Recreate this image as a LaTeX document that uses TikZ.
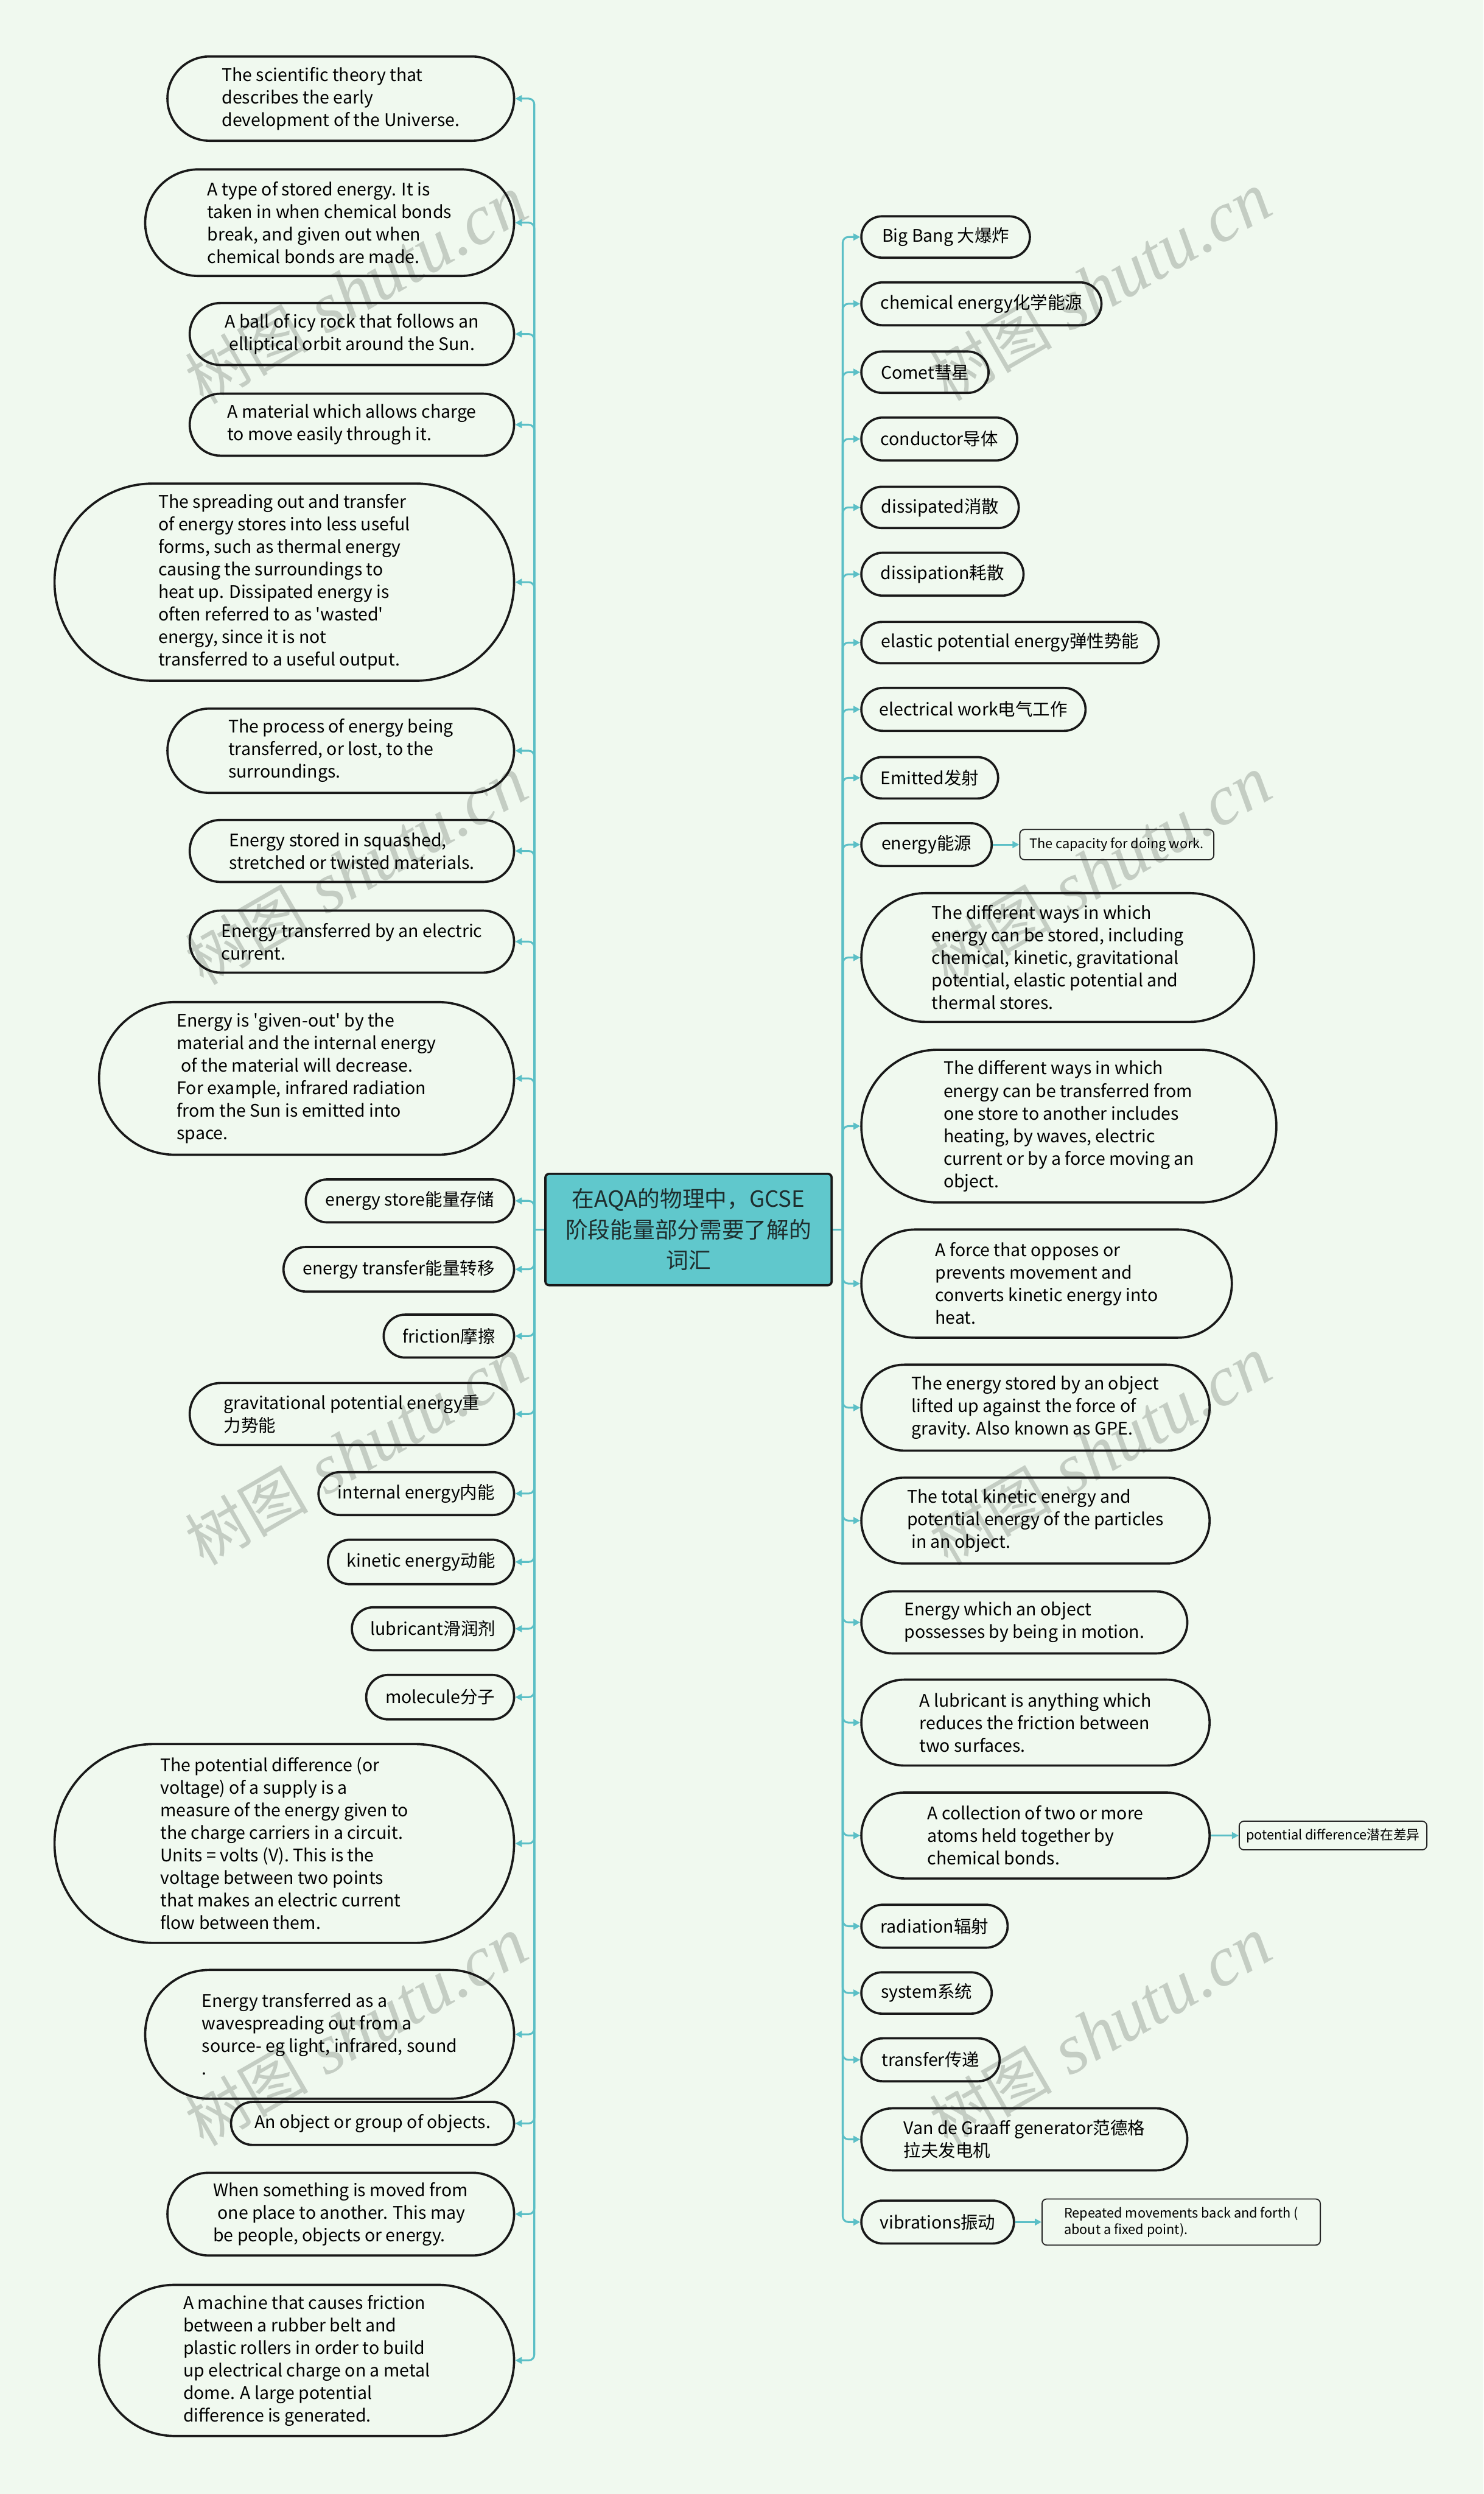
\documentclass[tikz,border=0pt]{standalone}
\usepackage{fontspec}
\usetikzlibrary{shapes.misc,arrows.meta}
\newfontfamily\mf{Noto Sans CJK SC}
\newfontfamily\wmcjk{Noto Sans CJK SC}
\newfontfamily\wmlat{Liberation Serif}
\definecolor{bgc}{HTML}{F0F9EF}
\definecolor{lnc}{HTML}{5BBFC6}
\definecolor{ctrc}{HTML}{60C8CC}
\definecolor{ctrt}{HTML}{1E2E2E}
\definecolor{wmc}{HTML}{B9C2B9}
\def\px{0.03cm}
\tikzset{
  x=0.03cm, y=-0.03cm,
  leaf/.style={rounded rectangle, draw=black!90, line width=1.2pt, align=left,
    font=\mf\fontsize{9.3}{12.1}\selectfont, inner sep=0pt},
  lft/.style={leaf, anchor=east},
  rgt/.style={leaf, anchor=west},
  sz/.style 2 args={minimum width=#1*\px, minimum height=#2*\px},
  notebox/.style={rectangle, rounded corners=2.5pt, draw=black!85, line width=0.6pt,
    align=left, font=\mf\fontsize{7.1}{8.8}\selectfont, inner sep=0pt, anchor=west},
  lnk/.style={draw=lnc, line width=1pt},
  arr/.style={lnk, -{Triangle[length=3.6pt,width=3.6pt]}},
  wmg/.style={text=wmc, opacity=0.8, inner sep=0pt, anchor=base west},
  wmc1/.style={wmg, font=\wmcjk\fontsize{33}{33}\selectfont},
  wmc2/.style={wmg, font=\wmlat\itshape\fontsize{38}{38}\selectfont}
}
% watermark: #1 name prefix, #2 x, #3 y (baseline start)
\newcommand\wmline[3]{%
  \begin{scope}[shift={(#2,#3)}, rotate=30, transform shape]
    \node[wmc1] (#1a) at (0,0) {树};
    \node[wmc1] (#1b) at (38.6,0) {图};
    \node[wmc2] (#1c) at (88.5,0) {s};
    \node[wmc2] (#1d) at (105.9,0) {h};
    \node[wmc2] (#1e) at (128.2,0) {u};
    \node[wmc2] (#1f) at (150.5,0) {t};
    \node[wmc2] (#1g) at (162.9,0) {u};
    \node[wmc2] (#1h) at (185.2,0) {.};
    \node[wmc2] (#1i) at (196.4,0) {c};
    \node[wmc2] (#1j) at (216.2,0) {n};
  \end{scope}}
\begin{document}
\begin{tikzpicture}
\path[fill=bgc] (0,0) rectangle (933,1568);
\useasboundingbox (0,0) rectangle (933,1568);

% watermarks
\wmline{wa}{128}{255}
\wmline{wb}{128}{620}
\wmline{wc}{128}{985}
\wmline{wd}{128}{1350}
\wmline{we}{596}{253}
\wmline{wf}{596}{620}
\wmline{wg}{596}{985}
\wmline{wh}{596}{1350}

% center
\node[rectangle, rounded corners=2pt, fill=ctrc, draw=black!90, line width=1.2pt,
  minimum width=180*\px, minimum height=70*\px, align=center, text=ctrt,
  font=\mf\fontsize{12}{16.5}\selectfont, inner sep=0pt] (c) at (433,773)
  {在AQA的物理中，GCSE\\阶段能量部分需要了解的\\词汇};

% left nodes
\node[lft, sz={218}{53}] (l1) at (324,62) {The scientific theory that\\describes the early\\development of the Universe.};
\node[lft, sz={232}{67}] (l2) at (324,140) {A type of stored energy. It is\\taken in when chemical bonds\\break, and given out when\\chemical bonds are made.};
\node[lft, sz={204}{39}] (l3) at (324,210) {A ball of icy rock that follows an\\\hspace*{0.25em}elliptical orbit around the Sun.};
\node[lft, sz={204}{39}] (l4) at (324,267) {A material which allows charge\\to move easily through it.};
\node[lft, sz={289}{124}] (l5) at (324,366) {The spreading out and transfer\\of energy stores into less useful\\forms, such as thermal energy\\causing the surroundings to\\heat up. Dissipated energy is\\often referred to as 'wasted'\\energy, since it is not\\transferred to a useful output.};
\node[lft, sz={218}{53}] (l6) at (324,472) {The process of energy being\\transferred, or lost, to the\\surroundings.};
\node[lft, sz={204}{39}] (l7) at (324,535) {Energy stored in squashed,\\stretched or twisted materials.};
\node[lft, sz={204}{39}] (l8) at (324,592) {Energy transferred by an electric\\current.};
\node[lft, sz={261}{96}] (l9) at (324,678) {Energy is 'given-out' by the\\material and the internal energy\\\hspace*{0.25em}of the material will decrease.\\For example, infrared radiation\\from the Sun is emitted into\\space.};
\node[lft, sz={131}{27}] (l10) at (324,755) {energy store能量存储};
\node[lft, sz={145}{28}] (l11) at (324,798) {energy transfer能量转移};
\node[lft, sz={82}{27}] (l12) at (324,840) {friction摩擦};
\node[lft, sz={204}{39}] (l13) at (324,889) {gravitational potential energy重\\力势能};
\node[lft, sz={123}{27}] (l14) at (324,939) {internal energy内能};
\node[lft, sz={117}{28}] (l15) at (324,982) {kinetic energy动能};
\node[lft, sz={102}{27}] (l16) at (324,1024) {lubricant滑润剂};
\node[lft, sz={93}{28}] (l17) at (324,1067) {molecule分子};
\node[lft, sz={289}{125}] (l18) at (324,1159) {The potential difference (or\\voltage) of a supply is a\\measure of the energy given to\\the charge carriers in a circuit.\\Units = volts (V). This is the\\voltage between two points\\that makes an electric current\\flow between them.};
\node[lft, sz={232}{81}] (l19) at (324,1279) {Energy transferred as a\\wavespreading out from a\\source- eg light, infrared, sound\\.};
\node[lft, sz={178}{27}] (l20) at (324,1335) {An object or group of objects.};
\node[lft, sz={218}{52}] (l21) at (324,1392) {When something is moved from\\\hspace*{0.25em}one place to another. This may\\be people, objects or energy.};
\node[lft, sz={261}{95}] (l22) at (324,1484) {A machine that causes friction\\between a rubber belt and\\plastic rollers in order to build\\up electrical charge on a metal\\dome. A large potential\\difference is generated.};

% right nodes
\node[rgt, sz={106}{26}] (r1) at (541,149) {Big Bang 大爆炸};
\node[rgt, sz={151}{27}] (r2) at (541,191) {chemical energy化学能源};
\node[rgt, sz={80}{26}] (r3) at (541,234) {Comet彗星};
\node[rgt, sz={98}{27}] (r4) at (541,276) {conductor导体};
\node[rgt, sz={99}{26}] (r5) at (541,319) {dissipated消散};
\node[rgt, sz={102}{27}] (r6) at (541,361) {dissipation耗散};
\node[rgt, sz={187}{26}] (r7) at (541,404) {elastic potential energy弹性势能};
\node[rgt, sz={141}{27}] (r8) at (541,446) {electrical work电气工作};
\node[rgt, sz={86}{26}] (r9) at (541,489) {Emitted发射};
\node[rgt, sz={82}{27}] (r10) at (541,531) {energy能源};
\node[rgt, sz={247}{81}] (r11) at (541,602) {The different ways in which\\energy can be stored, including\\chemical, kinetic, gravitational\\potential, elastic potential and\\thermal stores.};
\node[rgt, sz={261}{96}] (r12) at (541,708) {The different ways in which\\energy can be transferred from\\one store to another includes\\heating, by waves, electric\\current or by a force moving an\\object.};
\node[rgt, sz={233}{68}] (r13) at (541,807) {A force that opposes or\\prevents movement and\\converts kinetic energy into\\heat.};
\node[rgt, sz={219}{54}] (r14) at (541,885) {The energy stored by an object\\lifted up against the force of\\gravity. Also known as GPE.};
\node[rgt, sz={219}{54}] (r15) at (541,956) {The total kinetic energy and\\potential energy of the particles\\\hspace*{0.25em}in an object.};
\node[rgt, sz={205}{39}] (r16) at (541,1020) {Energy which an object\\possesses by being in motion.};
\node[rgt, sz={219}{54}] (r17) at (541,1083) {A lubricant is anything which\\reduces the friction between\\two surfaces.};
\node[rgt, sz={219}{54}] (r18) at (541,1154) {A collection of two or more\\atoms held together by\\chemical bonds.};
\node[rgt, sz={92}{27}] (r19) at (541,1211) {radiation辐射};
\node[rgt, sz={82}{26}] (r20) at (541,1253) {system系统};
\node[rgt, sz={87}{27}] (r21) at (541,1295) {transfer传递};
\node[rgt, sz={205}{39}] (r22) at (541,1345) {Van de Graaff generator范德格\\拉夫发电机};
\node[rgt, sz={96}{27}] (r23) at (541,1397) {vibrations振动};

% notes
\node[notebox, minimum width=122*\px, minimum height=19*\px] (n1) at (641,531) {The capacity for doing work.};
\node[notebox, minimum width=118*\px, minimum height=18*\px] (n2) at (779,1154) {potential difference潜在差异};
\node[notebox, minimum width=175*\px, minimum height=29*\px] (n3) at (655,1397) {Repeated movements back and forth (\\about a fixed point).};

% spines
\coordinate (ls) at (336,773);
\coordinate (rs) at (530,773);
\draw[lnk] (c.west) -- (ls);
\draw[lnk] (c.east) -- (rs);
\foreach \k in {1,...,22}{
  \draw[arr, rounded corners=3pt] (ls) |- (l\k.east);
}
\foreach \k in {1,...,23}{
  \draw[arr, rounded corners=3pt] (rs) |- (r\k.west);
}
\draw[arr] (r10.east) -- (n1.west);
\draw[arr] (r18.east) -- (n2.west);
\draw[arr] (r23.east) -- (n3.west);
\end{tikzpicture}
\end{document}
